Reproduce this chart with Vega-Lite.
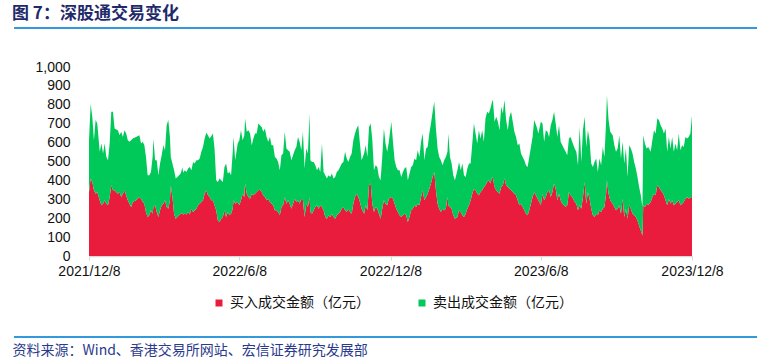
{
"$schema":"https://vega.github.io/schema/vega-lite/v6.json",
"width":603,"height":189,
"autosize":{"type":"none"},
"padding":{"left":89,"top":67,"right":77,"bottom":107},
"background":"#ffffff",
"config":{"view":{"stroke":null},"font":"Liberation Sans"},
"title":{"text":"图\u00a07：深股通交易变化","anchor":"start","frame":"group","dx":-77,"offset":4,"fontSize":17,"font":"Noto Sans CJK SC","fontWeight":"bold","color":"#1F2A6B"},
"layer":[
{
"data":{"values":[
{"date":"2021-12-08","buy":339,"sell":274},{"date":"2021-12-10","buy":410,"sell":394},{"date":"2021-12-12","buy":392,"sell":345},{"date":"2021-12-14","buy":348,"sell":265},{"date":"2021-12-16","buy":330,"sell":389},{"date":"2021-12-18","buy":339,"sell":362},{"date":"2021-12-21","buy":295,"sell":256},{"date":"2021-12-23","buy":268,"sell":327},{"date":"2021-12-25","buy":277,"sell":265},{"date":"2021-12-27","buy":295,"sell":300},{"date":"2021-12-29","buy":277,"sell":247},{"date":"2021-12-31","buy":268,"sell":239},
{"date":"2022-01-02","buy":312,"sell":283},{"date":"2022-01-04","buy":374,"sell":389},{"date":"2022-01-06","buy":348,"sell":415},{"date":"2022-01-08","buy":348,"sell":327},{"date":"2022-01-10","buy":339,"sell":330},{"date":"2022-01-12","buy":330,"sell":336},{"date":"2022-01-14","buy":339,"sell":300},{"date":"2022-01-16","buy":312,"sell":345},{"date":"2022-01-18","buy":330,"sell":300},{"date":"2022-01-20","buy":348,"sell":318},{"date":"2022-01-22","buy":321,"sell":327},{"date":"2022-01-24","buy":295,"sell":318},{"date":"2022-01-26","buy":277,"sell":327},{"date":"2022-01-28","buy":259,"sell":354},{"date":"2022-01-30","buy":286,"sell":336},
{"date":"2022-02-03","buy":295,"sell":335},{"date":"2022-02-07","buy":312,"sell":327},{"date":"2022-02-09","buy":303,"sell":292},{"date":"2022-02-11","buy":286,"sell":318},{"date":"2022-02-13","buy":277,"sell":309},{"date":"2022-02-15","buy":233,"sell":291},{"date":"2022-02-17","buy":206,"sell":221},{"date":"2022-02-19","buy":215,"sell":212},{"date":"2022-02-21","buy":242,"sell":203},{"date":"2022-02-23","buy":224,"sell":300},{"date":"2022-02-24","buy":259,"sell":363},{"date":"2022-02-26","buy":268,"sell":239},{"date":"2022-02-28","buy":233,"sell":274},
{"date":"2022-03-02","buy":206,"sell":221},{"date":"2022-03-04","buy":242,"sell":247},{"date":"2022-03-06","buy":268,"sell":265},{"date":"2022-03-08","buy":277,"sell":309},{"date":"2022-03-10","buy":295,"sell":265},{"date":"2022-03-12","buy":259,"sell":433},{"date":"2022-03-14","buy":250,"sell":469},{"date":"2022-03-16","buy":295,"sell":335},{"date":"2022-03-17","buy":374,"sell":150},{"date":"2022-03-19","buy":312,"sell":177},{"date":"2022-03-21","buy":224,"sell":230},{"date":"2022-03-23","buy":197,"sell":213},{"date":"2022-03-25","buy":206,"sell":212},{"date":"2022-03-27","buy":215,"sell":212},{"date":"2022-03-29","buy":224,"sell":212},{"date":"2022-03-31","buy":227,"sell":241},
{"date":"2022-04-01","buy":220,"sell":220},{"date":"2022-04-03","buy":224,"sell":230},{"date":"2022-04-05","buy":220,"sell":225},{"date":"2022-04-07","buy":233,"sell":230},{"date":"2022-04-09","buy":220,"sell":251},{"date":"2022-04-11","buy":250,"sell":204},{"date":"2022-04-13","buy":233,"sell":265},{"date":"2022-04-15","buy":242,"sell":247},{"date":"2022-04-17","buy":250,"sell":257},{"date":"2022-04-19","buy":268,"sell":239},{"date":"2022-04-21","buy":277,"sell":239},{"date":"2022-04-23","buy":286,"sell":265},{"date":"2022-04-25","buy":295,"sell":282},{"date":"2022-04-27","buy":330,"sell":292},{"date":"2022-04-29","buy":348,"sell":304},
{"date":"2022-05-01","buy":321,"sell":318},{"date":"2022-05-03","buy":312,"sell":310},{"date":"2022-05-05","buy":295,"sell":339},{"date":"2022-05-07","buy":295,"sell":353},{"date":"2022-05-09","buy":268,"sell":301},{"date":"2022-05-11","buy":242,"sell":159},{"date":"2022-05-13","buy":188,"sell":204},{"date":"2022-05-15","buy":180,"sell":230},{"date":"2022-05-17","buy":197,"sell":204},{"date":"2022-05-19","buy":206,"sell":186},{"date":"2022-05-21","buy":242,"sell":229},{"date":"2022-05-23","buy":206,"sell":283},{"date":"2022-05-25","buy":233,"sell":203},{"date":"2022-05-27","buy":215,"sell":230},{"date":"2022-05-29","buy":224,"sell":203},{"date":"2022-05-31","buy":250,"sell":301},
{"date":"2022-06-01","buy":295,"sell":335},{"date":"2022-06-03","buy":277,"sell":230},{"date":"2022-06-06","buy":286,"sell":309},{"date":"2022-06-08","buy":268,"sell":345},{"date":"2022-06-10","buy":295,"sell":371},{"date":"2022-06-12","buy":330,"sell":283},{"date":"2022-06-14","buy":312,"sell":327},{"date":"2022-06-15","buy":383,"sell":345},{"date":"2022-06-17","buy":330,"sell":327},{"date":"2022-06-19","buy":312,"sell":354},{"date":"2022-06-21","buy":303,"sell":345},{"date":"2022-06-23","buy":330,"sell":256},{"date":"2022-06-25","buy":321,"sell":301},{"date":"2022-06-27","buy":330,"sell":318},{"date":"2022-06-29","buy":339,"sell":309},
{"date":"2022-07-01","buy":348,"sell":353},{"date":"2022-07-03","buy":351,"sell":341},{"date":"2022-07-05","buy":339,"sell":344},{"date":"2022-07-07","buy":321,"sell":336},{"date":"2022-07-09","buy":312,"sell":363},{"date":"2022-07-11","buy":295,"sell":335},{"date":"2022-07-13","buy":303,"sell":301},{"date":"2022-07-15","buy":286,"sell":344},{"date":"2022-07-17","buy":277,"sell":309},{"date":"2022-07-19","buy":268,"sell":318},{"date":"2022-07-21","buy":242,"sell":282},{"date":"2022-07-23","buy":242,"sell":274},{"date":"2022-07-25","buy":233,"sell":265},{"date":"2022-07-27","buy":215,"sell":239},{"date":"2022-07-29","buy":259,"sell":274},{"date":"2022-07-31","buy":268,"sell":274},
{"date":"2022-08-02","buy":312,"sell":345},{"date":"2022-08-04","buy":277,"sell":292},{"date":"2022-08-06","buy":295,"sell":265},{"date":"2022-08-08","buy":277,"sell":274},{"date":"2022-08-10","buy":250,"sell":257},{"date":"2022-08-12","buy":277,"sell":256},{"date":"2022-08-14","buy":303,"sell":257},{"date":"2022-08-16","buy":286,"sell":291},{"date":"2022-08-18","buy":295,"sell":335},{"date":"2022-08-20","buy":277,"sell":327},{"date":"2022-08-22","buy":303,"sell":257},{"date":"2022-08-24","buy":295,"sell":362},{"date":"2022-08-26","buy":206,"sell":257},{"date":"2022-08-28","buy":277,"sell":292},{"date":"2022-08-30","buy":259,"sell":283},
{"date":"2022-09-01","buy":312,"sell":442},{"date":"2022-09-02","buy":233,"sell":274},{"date":"2022-09-04","buy":224,"sell":274},{"date":"2022-09-06","buy":242,"sell":256},{"date":"2022-09-08","buy":259,"sell":221},{"date":"2022-09-10","buy":268,"sell":186},{"date":"2022-09-12","buy":250,"sell":221},{"date":"2022-09-14","buy":268,"sell":177},{"date":"2022-09-16","buy":259,"sell":336},{"date":"2022-09-18","buy":242,"sell":203},{"date":"2022-09-20","buy":206,"sell":221},{"date":"2022-09-22","buy":197,"sell":213},{"date":"2022-09-24","buy":215,"sell":212},{"date":"2022-09-26","buy":206,"sell":212},{"date":"2022-09-28","buy":224,"sell":212},{"date":"2022-09-30","buy":206,"sell":204},
{"date":"2022-10-02","buy":197,"sell":221},{"date":"2022-10-04","buy":215,"sell":230},{"date":"2022-10-06","buy":224,"sell":230},{"date":"2022-10-08","buy":233,"sell":238},{"date":"2022-10-10","buy":250,"sell":239},{"date":"2022-10-12","buy":259,"sell":239},{"date":"2022-10-14","buy":242,"sell":309},{"date":"2022-10-16","buy":233,"sell":283},{"date":"2022-10-18","buy":250,"sell":248},{"date":"2022-10-20","buy":233,"sell":291},{"date":"2022-10-22","buy":224,"sell":318},{"date":"2022-10-24","buy":277,"sell":336},{"date":"2022-10-26","buy":312,"sell":336},{"date":"2022-10-28","buy":330,"sell":345},{"date":"2022-10-30","buy":312,"sell":380},
{"date":"2022-11-01","buy":286,"sell":309},{"date":"2022-11-03","buy":250,"sell":257},{"date":"2022-11-06","buy":224,"sell":318},{"date":"2022-11-08","buy":268,"sell":318},{"date":"2022-11-10","buy":242,"sell":282},{"date":"2022-11-12","buy":374,"sell":309},{"date":"2022-11-14","buy":383,"sell":318},{"date":"2022-11-16","buy":277,"sell":336},{"date":"2022-11-18","buy":233,"sell":221},{"date":"2022-11-20","buy":259,"sell":221},{"date":"2022-11-22","buy":250,"sell":221},{"date":"2022-11-24","buy":224,"sell":194},{"date":"2022-11-26","buy":197,"sell":204},{"date":"2022-11-28","buy":250,"sell":274},{"date":"2022-11-30","buy":295,"sell":380},
{"date":"2022-12-02","buy":277,"sell":318},{"date":"2022-12-04","buy":268,"sell":283},{"date":"2022-12-06","buy":303,"sell":301},{"date":"2022-12-09","buy":312,"sell":398},{"date":"2022-12-11","buy":303,"sell":301},{"date":"2022-12-13","buy":277,"sell":230},{"date":"2022-12-15","buy":250,"sell":221},{"date":"2022-12-17","buy":233,"sell":221},{"date":"2022-12-19","buy":215,"sell":239},{"date":"2022-12-21","buy":206,"sell":212},{"date":"2022-12-23","buy":215,"sell":230},{"date":"2022-12-25","buy":224,"sell":239},{"date":"2022-12-27","buy":215,"sell":256},{"date":"2022-12-29","buy":180,"sell":221},{"date":"2022-12-31","buy":206,"sell":230},
{"date":"2023-01-02","buy":242,"sell":229},{"date":"2023-01-04","buy":250,"sell":230},{"date":"2023-01-06","buy":268,"sell":248},{"date":"2023-01-08","buy":259,"sell":248},{"date":"2023-01-10","buy":277,"sell":283},{"date":"2023-01-12","buy":268,"sell":256},{"date":"2023-01-14","buy":312,"sell":292},{"date":"2023-01-16","buy":348,"sell":300},{"date":"2023-01-18","buy":295,"sell":212},{"date":"2023-01-20","buy":312,"sell":257},{"date":"2023-01-22","buy":330,"sell":247},{"date":"2023-01-24","buy":356,"sell":292},{"date":"2023-01-26","buy":383,"sell":318},{"date":"2023-01-28","buy":418,"sell":345},{"date":"2023-01-30","buy":445,"sell":371},
{"date":"2023-02-01","buy":348,"sell":327},{"date":"2023-02-03","buy":277,"sell":292},{"date":"2023-02-05","buy":250,"sell":274},{"date":"2023-02-07","buy":233,"sell":274},{"date":"2023-02-09","buy":250,"sell":230},{"date":"2023-02-11","buy":242,"sell":265},{"date":"2023-02-13","buy":250,"sell":274},{"date":"2023-02-15","buy":312,"sell":239},{"date":"2023-02-16","buy":268,"sell":380},{"date":"2023-02-18","buy":259,"sell":265},{"date":"2023-02-20","buy":250,"sell":239},{"date":"2023-02-22","buy":215,"sell":212},{"date":"2023-02-24","buy":197,"sell":204},{"date":"2023-02-27","buy":206,"sell":248},
{"date":"2023-03-01","buy":242,"sell":256},{"date":"2023-03-03","buy":233,"sell":221},{"date":"2023-03-05","buy":215,"sell":274},{"date":"2023-03-07","buy":206,"sell":221},{"date":"2023-03-09","buy":224,"sell":194},{"date":"2023-03-11","buy":250,"sell":213},{"date":"2023-03-13","buy":268,"sell":221},{"date":"2023-03-15","buy":295,"sell":194},{"date":"2023-03-17","buy":330,"sell":265},{"date":"2023-03-19","buy":356,"sell":345},{"date":"2023-03-21","buy":348,"sell":300},{"date":"2023-03-23","buy":330,"sell":265},{"date":"2023-03-25","buy":321,"sell":345},{"date":"2023-03-27","buy":339,"sell":283},{"date":"2023-03-29","buy":348,"sell":318},{"date":"2023-03-31","buy":365,"sell":239},
{"date":"2023-04-02","buy":374,"sell":354},{"date":"2023-04-04","buy":392,"sell":371},{"date":"2023-04-06","buy":401,"sell":353},{"date":"2023-04-08","buy":383,"sell":398},{"date":"2023-04-10","buy":418,"sell":398},{"date":"2023-04-11","buy":410,"sell":415},{"date":"2023-04-13","buy":365,"sell":345},{"date":"2023-04-15","buy":348,"sell":389},{"date":"2023-04-17","buy":339,"sell":371},{"date":"2023-04-19","buy":330,"sell":336},{"date":"2023-04-21","buy":365,"sell":425},{"date":"2023-04-23","buy":374,"sell":380},{"date":"2023-04-25","buy":410,"sell":415},{"date":"2023-04-27","buy":374,"sell":345},{"date":"2023-04-29","buy":365,"sell":301},
{"date":"2023-05-01","buy":356,"sell":381},{"date":"2023-05-03","buy":348,"sell":415},{"date":"2023-05-05","buy":339,"sell":371},{"date":"2023-05-07","buy":330,"sell":327},{"date":"2023-05-09","buy":321,"sell":309},{"date":"2023-05-11","buy":295,"sell":291},{"date":"2023-05-13","buy":268,"sell":327},{"date":"2023-05-15","buy":277,"sell":265},{"date":"2023-05-17","buy":259,"sell":265},{"date":"2023-05-19","buy":242,"sell":265},{"date":"2023-05-21","buy":224,"sell":256},{"date":"2023-05-23","buy":215,"sell":256},{"date":"2023-05-25","buy":242,"sell":282},{"date":"2023-05-27","buy":277,"sell":300},{"date":"2023-05-29","buy":312,"sell":318},{"date":"2023-05-31","buy":339,"sell":380},
{"date":"2023-06-03","buy":312,"sell":371},{"date":"2023-06-05","buy":295,"sell":353},{"date":"2023-06-08","buy":268,"sell":442},{"date":"2023-06-10","buy":330,"sell":371},{"date":"2023-06-12","buy":295,"sell":309},{"date":"2023-06-14","buy":312,"sell":354},{"date":"2023-06-16","buy":339,"sell":318},{"date":"2023-06-18","buy":348,"sell":282},{"date":"2023-06-20","buy":312,"sell":380},{"date":"2023-06-22","buy":339,"sell":380},{"date":"2023-06-24","buy":383,"sell":380},{"date":"2023-06-26","buy":356,"sell":345},{"date":"2023-06-28","buy":295,"sell":335},{"date":"2023-06-30","buy":330,"sell":362},
{"date":"2023-07-02","buy":295,"sell":309},{"date":"2023-07-04","buy":277,"sell":309},{"date":"2023-07-06","buy":268,"sell":301},{"date":"2023-07-08","buy":259,"sell":292},{"date":"2023-07-10","buy":268,"sell":265},{"date":"2023-07-12","buy":339,"sell":283},{"date":"2023-07-14","buy":321,"sell":309},{"date":"2023-07-16","buy":312,"sell":292},{"date":"2023-07-19","buy":286,"sell":283},{"date":"2023-07-21","buy":277,"sell":274},{"date":"2023-07-23","buy":242,"sell":238},{"date":"2023-07-25","buy":268,"sell":415},{"date":"2023-07-27","buy":250,"sell":248},{"date":"2023-07-29","buy":312,"sell":354},{"date":"2023-07-31","buy":392,"sell":345},
{"date":"2023-08-02","buy":277,"sell":300},{"date":"2023-08-04","buy":339,"sell":327},{"date":"2023-08-06","buy":303,"sell":310},{"date":"2023-08-08","buy":250,"sell":239},{"date":"2023-08-10","buy":215,"sell":256},{"date":"2023-08-12","buy":206,"sell":292},{"date":"2023-08-14","buy":224,"sell":292},{"date":"2023-08-16","buy":215,"sell":230},{"date":"2023-08-18","buy":242,"sell":274},{"date":"2023-08-20","buy":233,"sell":247},{"date":"2023-08-22","buy":250,"sell":327},{"date":"2023-08-24","buy":259,"sell":265},{"date":"2023-08-26","buy":330,"sell":380},{"date":"2023-08-27","buy":401,"sell":450},{"date":"2023-08-29","buy":330,"sell":389},{"date":"2023-08-31","buy":295,"sell":362},
{"date":"2023-09-03","buy":277,"sell":362},{"date":"2023-09-05","buy":259,"sell":327},{"date":"2023-09-07","buy":242,"sell":309},{"date":"2023-09-09","buy":250,"sell":319},{"date":"2023-09-11","buy":268,"sell":371},{"date":"2023-09-13","buy":224,"sell":292},{"date":"2023-09-15","buy":303,"sell":301},{"date":"2023-09-17","buy":206,"sell":283},{"date":"2023-09-19","buy":250,"sell":319},{"date":"2023-09-21","buy":197,"sell":221},{"date":"2023-09-23","buy":268,"sell":318},{"date":"2023-09-25","buy":250,"sell":319},{"date":"2023-09-27","buy":224,"sell":318},{"date":"2023-09-29","buy":215,"sell":283},
{"date":"2023-10-01","buy":206,"sell":257},{"date":"2023-10-03","buy":188,"sell":230},{"date":"2023-10-05","buy":162,"sell":203},{"date":"2023-10-07","buy":135,"sell":186},{"date":"2023-10-09","buy":109,"sell":150},{"date":"2023-10-10","buy":268,"sell":371},{"date":"2023-10-12","buy":259,"sell":336},{"date":"2023-10-14","buy":277,"sell":292},{"date":"2023-10-16","buy":268,"sell":309},{"date":"2023-10-19","buy":286,"sell":265},{"date":"2023-10-21","buy":312,"sell":301},{"date":"2023-10-23","buy":330,"sell":336},{"date":"2023-10-25","buy":321,"sell":327},{"date":"2023-10-27","buy":374,"sell":354},{"date":"2023-10-29","buy":365,"sell":354},{"date":"2023-10-31","buy":348,"sell":344},
{"date":"2023-11-02","buy":339,"sell":336},{"date":"2023-11-04","buy":321,"sell":327},{"date":"2023-11-06","buy":295,"sell":380},{"date":"2023-11-08","buy":268,"sell":283},{"date":"2023-11-10","buy":303,"sell":327},{"date":"2023-11-12","buy":277,"sell":292},{"date":"2023-11-14","buy":295,"sell":335},{"date":"2023-11-16","buy":268,"sell":283},{"date":"2023-11-18","buy":277,"sell":318},{"date":"2023-11-20","buy":286,"sell":274},{"date":"2023-11-22","buy":295,"sell":353},{"date":"2023-11-24","buy":268,"sell":292},{"date":"2023-11-26","buy":277,"sell":309},{"date":"2023-11-28","buy":286,"sell":291},{"date":"2023-11-30","buy":303,"sell":327},
{"date":"2023-12-02","buy":312,"sell":310},{"date":"2023-12-04","buy":303,"sell":327},{"date":"2023-12-06","buy":309,"sell":339},{"date":"2023-12-08","buy":312,"sell":433}
]},
"transform":[{"fold":["buy","sell"],"as":["type","value"]}],
"mark":{"type":"area","interpolate":"linear"},
"encoding":{
"x":{"field":"date","type":"temporal",
"scale":{"type":"utc","domain":[{"year":2021,"month":12,"date":8,"utc":true},{"year":2023,"month":12,"date":8,"utc":true}]},
"axis":{"values":[{"year":2021,"month":12,"date":8,"utc":true},{"year":2022,"month":6,"date":8,"utc":true},{"year":2022,"month":12,"date":8,"utc":true},{"year":2023,"month":6,"date":8,"utc":true},{"year":2023,"month":12,"date":8,"utc":true}],
"format":"%Y/%-m/%-d","labelFlush":false,"labelOverlap":false,"grid":false,"domainColor":"#D9D9D9","domainWidth":1.5,"tickColor":"#D9D9D9","tickSize":4,"labelPadding":4,"labelFontSize":14,"labelFont":"Liberation Sans","labelColor":"#111111",
"title":"资料来源：Wind、香港交易所网站、宏信证券研究发展部","titleX":-77,"titleY":94,"titleAlign":"left","titleAnchor":"start","titleBaseline":"middle","titleFont":"Noto Sans CJK SC","titleFontSize":14,"titleFontWeight":"normal","titleColor":"#2B3A8C"}},
"y":{"field":"value","type":"quantitative","stack":"zero",
"scale":{"domain":[0,1000],"nice":false},
"axis":{"values":[0,100,200,300,400,500,600,700,800,900,1000],"format":",.0f","title":null,"grid":false,"domain":false,"ticks":false,"tickSize":0,"labelPadding":19,"labelFontSize":14,"labelFont":"Liberation Sans","labelColor":"#111111"}},
"color":{"field":"type","type":"nominal",
"scale":{"domain":["buy","sell"],"range":["#EA1C3D","#00C95A"]},
"legend":{"orient":"none","legendX":123,"legendY":229,"direction":"horizontal","title":null,"padding":0,"symbolType":"square","symbolSize":49,"symbolStrokeWidth":0,"labelOffset":4,"columnPadding":45,"labelFont":"Noto Sans CJK SC","labelFontSize":14,"labelColor":"#111111","labelLimit":300,
"labelExpr":"datum.value == 'buy' ? '买入成交金额（亿元）' : '卖出成交金额（亿元）'"}},
"order":{"field":"type","sort":"ascending"}
}
},
{
"data":{"values":[{"line":"top"}]},
"mark":{"type":"rule","color":"#3399DD","strokeWidth":2},
"encoding":{"x":{"value":-75},"x2":{"value":668},"y":{"value":-39}}
},
{
"data":{"values":[{"line":"bottom"}]},
"mark":{"type":"rule","color":"#3399DD","strokeWidth":2},
"encoding":{"x":{"value":-75},"x2":{"value":668},"y":{"value":270}}
}
]
}
